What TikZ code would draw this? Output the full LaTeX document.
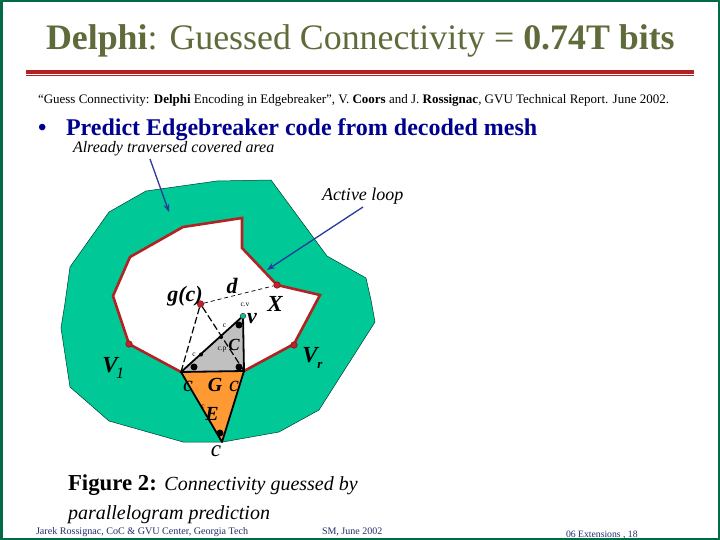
\documentclass[tikz,border=0pt]{standalone}
\usepackage{fontspec}
\setmainfont{Liberation Serif}
\usetikzlibrary{arrows.meta}
\definecolor{framegreen}{HTML}{006B45}
\definecolor{areagreen}{HTML}{00C896}
\definecolor{loopred}{HTML}{B22222}
\definecolor{dotred}{HTML}{C8202A}
\definecolor{titleolive}{HTML}{5F6B3A}
\definecolor{headblue}{HTML}{000090}
\definecolor{arrowblue}{HTML}{2A3A9A}
\definecolor{triorange}{HTML}{FF9933}
\definecolor{trigray}{HTML}{C0C0C0}
\definecolor{footblue}{HTML}{20306A}
\newcommand{\fs}[1]{\fontsize{#1}{#1}\selectfont}
\tikzset{
  txt/.style={anchor=base west,inner sep=0pt,outer sep=0pt},
  lab/.style={anchor=base,inner sep=0pt,outer sep=0pt,font=\fs{#1}\itshape},
  blab/.style={anchor=base,inner sep=0pt,outer sep=0pt,font=\fs{#1}\bfseries\itshape},
  tiny/.style={anchor=center,inner sep=0pt,outer sep=0pt,font=\fs{7.5}},
  reddot/.style={circle,fill=dotred,draw=loopred!70!black,line width=0.6pt,minimum size=6.5pt,inner sep=0pt},
  tealdot/.style={circle,fill=areagreen,draw=black!70,line width=0.6pt,minimum size=6pt,inner sep=0pt},
  blackdot/.style={circle,fill=black,minimum size=7pt,inner sep=0pt},
  smalldot/.style={circle,fill=black,minimum size=4pt,inner sep=0pt},
  callout/.style={draw=arrowblue,line width=1.3pt,-{Stealth[length=8pt,width=6pt]}},
  dashedge/.style={black,line width=1.2pt,dash pattern=on 7pt off 3pt},
  thindash/.style={black,line width=0.7pt,dash pattern=on 4pt off 3pt},
  triedge/.style={black,line width=1.8pt,line join=round},
}
\begin{document}
\begin{tikzpicture}[x=1pt,y=-1pt]
\useasboundingbox (0,0) rectangle (720,540);
\fill[white] (0,0) rectangle (720,540);
\draw[framegreen,line width=3pt] (1,1) rectangle (719,539);
% title
\node[txt] (title) at (46,50) {\fs{35.85}\color{titleolive}\textbf{Delphi}: Guessed Connectivity = \textbf{0.74T bits}};
\fill[loopred] (26,70) rectangle (694,74);
\fill[loopred] (26,75) rectangle (694,76);
\node[txt] (cite) at (38,103.5) {\fs{13}“Guess Connectivity: \textbf{Delphi} Encoding in Edgebreaker”, V. \textbf{Coors} and J. \textbf{Rossignac}, GVU Technical Report. June 2002.};
\node[txt] (bul) at (38,135.5) {\fs{24}\bfseries\color{headblue}•};
\node[txt] (head) at (66,135.5) {\fs{24}\bfseries\color{headblue}Predict Edgebreaker code from decoded mesh};
\node[txt] (already) at (73,152.5) {\fs{16}\itshape Already traversed covered area};
\node[txt] (active) at (322,201) {\fs{18}\itshape Active loop};
% areas
\fill[areagreen,draw=black!70!areagreen,line width=0.5pt] (146,191)--(109,212)--(70,267)--(65,303)--(61,328)--(70,387)--(109,421)--(183,442)--(223,442)--(279,432)--(319,410)--(375,322)--(371,300)--(366,278)--(327,256)--(271,180)--(217,181)--cycle;
\fill[white] (183,227)--(242,218)--(242,248)--(277,285)--(320,295)--(294,344)--(244,371)--(181,372)--(129,344)--(113,296)--(130,257)--cycle;
\draw[loopred,line width=2.6pt,line join=miter] (181,372)--(129,344)--(113,296)--(130,257)--(183,227)--(242,218)--(242,248)--(277,285)--(320,295)--(294,344)--(244,371);
% triangles
\coordinate (tl) at (181,372);
\coordinate (tr) at (244,371);
\coordinate (ap) at (222,442);
\fill[trigray] (tl)--(tr)--(243,316)--cycle;
\fill[triorange] (tl)--(tr)--(ap)--cycle;
\draw[triedge] (243,316)--(tl)--(tr)--cycle;
\draw[triedge] (tl)--(ap)--(tr);
% vertices
\node[reddot] (gc) at (200.5,304) {};
\node[tealdot,minimum size=5.5pt] (v) at (243,316) {};
\node[reddot] (vr) at (294,345) {};
\node[reddot] (xp) at (277,285) {};
\node[reddot] (vl) at (129,344) {};
\node[blackdot] at (194,367) {};
\node[blackdot] at (239,367) {};
\node[blackdot] at (239,325) {};
\node[blackdot] at (220,433) {};
\node[smalldot] at (201,354.5) {};
\node[smalldot] at (221,337) {};
% dashed
\draw[dashedge] (gc)--(tl);
\draw[dashedge] (gc)--(tr);
\draw[thindash] (gc)--(xp);
% callouts
\coordinate (a1) at (150,159);
\coordinate (a2) at (169,212);
\draw[callout] (a1)--(a2);
\coordinate (b1) at (363,207);
\coordinate (b2) at (267,270);
\draw[callout] (b1)--(b2);
% labels
\node[blab=22] (lgc) at (185,301) {g(c)};
\node[blab=22] (ld) at (232,293) {d};
\node[blab=23] (lx) at (275,311) {X};
\node[blab=22] (lv) at (252,323) {v};
\node[blab=17] (lC) at (234,350) {C};
\node[blab=20] (lG) at (215,391) {G};
\node[lab=22] (lc1) at (188,391) {c};
\node[lab=22] (lc2) at (234,391) {c};
\node[blab=20] (lE) at (212,420) {E};
\node[lab=23] (lc3) at (216,456) {c};
\node[blab=23] (lV) at (110,372) {V};
\node[lab=16] (lVs) at (120,378) {1};
\node[blab=23] (lVr) at (310,362) {V};
\node[blab=13] (lVrs) at (320,368) {r};
\node[tiny] at (245,304.5) {c.v};
\node[tiny] at (224.5,326) {c};
\node[tiny] at (194,355) {c};
\node[tiny] at (222,350) {c.p};
\node[tiny] at (203,407) {c};
% caption
\node[txt] (fig1) at (68,490) {\fs{22.8}\textbf{Figure 2:} \fs{20}\itshape Connectivity guessed by};
\node[txt] (fig2) at (68,519) {\fs{20}\itshape parallelogram prediction};
% footer
\node[txt] (f1) at (36,534) {\fs{10.1}\color{footblue}Jarek Rossignac, CoC \& GVU Center, Georgia Tech};
\node[txt] (f2) at (322,534) {\fs{10}\color{footblue}SM, June 2002};
\node[txt] (f3) at (566,537) {\fs{9.7}\color{footblue}06 Extensions , 18};
\end{tikzpicture}
\end{document}
